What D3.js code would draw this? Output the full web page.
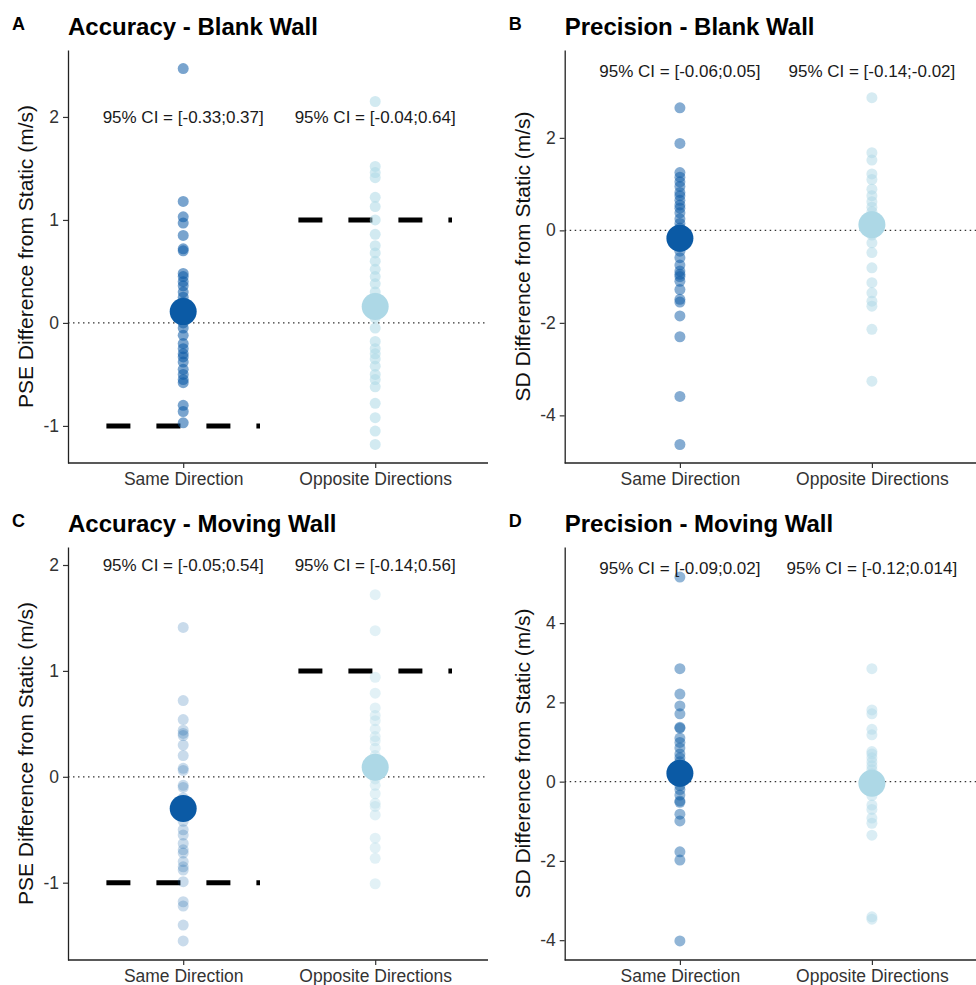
<!DOCTYPE html>
<html lang="en">
<head>
    <meta charset="UTF-8">
    <title></title>
    <style type="text/css">
        html, body { padding:0; margin:0; background:#fff; }
        text { font-family: "Liberation Sans", Arial, sans-serif; }
    </style>
</head>
<body>
<script src="https://d3js.org/d3.v7.min.js"></script>
<script>
    // categories and per-panel values
    var categories = ['Same Direction', 'Opposite Directions'];

    var accBlankSame = [2.47, 1.18, 1.03, 0.97, 0.85, 0.72, 0.70, 0.48, 0.45, 0.40, 0.36, 0.30, 0.25, 0.20, 0.15, 0.12, 0.05, 0.0,
                        -0.05, -0.12, -0.20, -0.25, -0.30, -0.33, -0.38, -0.45, -0.50, -0.55, -0.58, -0.80, -0.86, -0.97];
    var accBlankOpp = [2.15, 1.52, 1.46, 1.41, 1.22, 1.13, 1.0, 0.86, 0.75, 0.68, 0.60, 0.52, 0.45, 0.38, 0.30, 0.24, 0.10, 0.05,
                       -0.05, -0.18, -0.25, -0.30, -0.35, -0.42, -0.50, -0.55, -0.62, -0.78, -0.92, -1.05, -1.18];
    var precBlankSame = [2.65, 1.88, 1.25, 1.15, 1.05, 0.95, 0.82, 0.75, 0.65, 0.55, 0.48, 0.38, 0.25, 0.15, 0.05, -0.05, -0.15,
                         -0.25, -0.35, -0.45, -0.59, -0.75, -0.88, -0.95, -1.0, -1.1, -1.28, -1.49, -1.55, -1.85, -2.3, -3.59, -4.63];
    var precBlankOpp = [2.87, 1.68, 1.52, 1.22, 1.1, 0.89, 0.75, 0.62, 0.5, 0.4, 0.3, 0.2, 0.08, 0.0, -0.1, -0.27, -0.48, -0.81,
                        -1.13, -1.35, -1.53, -1.64, -2.14, -3.26];
    var accMovSame = [1.41, 0.72, 0.54, 0.44, 0.41, 0.39, 0.30, 0.20, 0.08, 0.06, -0.08, -0.10, -0.20, -0.42, -0.50, -0.55, -0.63,
                      -0.69, -0.72, -0.80, -0.85, -0.88, -0.99, -1.18, -1.22, -1.40, -1.55];
    var accMovOpp = [1.72, 1.38, 0.94, 0.79, 0.65, 0.58, 0.53, 0.45, 0.38, 0.34, 0.27, 0.20, 0.12, -0.02, -0.08, -0.16, -0.25,
                     -0.28, -0.36, -0.58, -0.67, -0.77, -1.01];
    var precMovSame = [5.16, 2.85, 2.21, 1.91, 1.71, 1.37, 1.35, 1.1, 0.99, 0.85, 0.7, 0.6, 0.5, 0.4, 0.3, 0.1, 0.0, -0.1, -0.2,
                       -0.34, -0.49, -0.52, -0.82, -0.99, -1.77, -1.98, -4.02];
    var precMovOpp = [2.85, 1.81, 1.71, 1.32, 1.18, 0.76, 0.7, 0.6, 0.5, 0.4, 0.3, 0.2, 0.1, 0.0, -0.2, -0.35, -0.59, -0.7,
                      -0.92, -1.05, -1.35, -3.41, -3.47];

    var accBlankMeans = [0.11, 0.16];
    var precBlankMeans = [-0.17, 0.12];
    var accMovMeans = [-0.30, 0.09];
    var precMovMeans = [0.21, -0.04];

    var accBlankCI = ['95% CI = [-0.33;0.37]', '95% CI = [-0.04;0.64]'];
    var precBlankCI = ['95% CI = [-0.06;0.05]', '95% CI = [-0.14;-0.02]'];
    var accMovCI = ['95% CI = [-0.05;0.54]', '95% CI = [-0.14;0.56]'];
    var precMovCI = ['95% CI = [-0.09;0.02]', '95% CI = [-0.12;0.014]'];

    var accTicks = [-1, 0, 1, 2];
    var precBlankTicks = [-4, -2, 0, 2];
    var precMovTicks = [-4, -2, 0, 2, 4];

    // reference levels (dashed) for the accuracy panels: same -> -1, opposite -> 1
    var accRefLevels = [-1, 1];

    var dark = '#0b5aa5', light = '#add8e6';

    var svg = d3.select('body').append('svg')
        .attr('width', 976)
        .attr('height', 985);

    var panels = [
        { letter: 'A', title: 'Accuracy - Blank Wall', ylab: 'PSE Difference from Static (m/s)',
          left: 68, top: 50, bottom: 463, right: 488, domain: [-1.36, 2.65], ticks: accTicks,
          series: [accBlankSame, accBlankOpp], means: accBlankMeans, ci: accBlankCI, ciY: 2,
          refs: accRefLevels, alpha: [0.55, 0.55] },
        { letter: 'B', title: 'Precision - Blank Wall', ylab: 'SD Difference from Static (m/s)',
          left: 564.7, top: 50, bottom: 463, right: 976, domain: [-5.03, 3.9], ticks: precBlankTicks,
          series: [precBlankSame, precBlankOpp], means: precBlankMeans, ci: precBlankCI, ciY: 3.45,
          refs: null, alpha: [0.5, 0.5] },
        { letter: 'C', title: 'Accuracy - Moving Wall', ylab: 'PSE Difference from Static (m/s)',
          left: 68, top: 547, bottom: 960, right: 488, domain: [-1.73, 2.17], ticks: accTicks,
          series: [accMovSame, accMovOpp], means: accMovMeans, ci: accMovCI, ciY: 2,
          refs: accRefLevels, alpha: [0.22, 0.35] },
        { letter: 'D', title: 'Precision - Moving Wall', ylab: 'SD Difference from Static (m/s)',
          left: 564.7, top: 547, bottom: 960, right: 976, domain: [-4.5, 5.92], ticks: precMovTicks,
          series: [precMovSame, precMovOpp], means: precMovMeans, ci: precMovCI, ciY: 5.4,
          refs: null, alpha: [0.45, 0.45] }
    ];

    panels.forEach(function(p, i) {
        var g = svg.append('g');
        var x = d3.scaleLinear().domain([0.4, 2.6]).range([p.left, p.left + 2.2 * 192]);
        var y = d3.scaleLinear().domain(p.domain).range([p.bottom, p.top]);
        var colors = [dark, light];

        g.append('clipPath').attr('id', 'clip' + i)
          .append('rect')
          .attr('x', p.left).attr('y', p.top - 30)
          .attr('width', p.right - p.left).attr('height', p.bottom - p.top + 30);

        var plot = g.append('g').attr('clip-path', 'url(#clip' + i + ')');

        // zero line
        plot.append('line')
          .attr('x1', p.left).attr('x2', x(2.6))
          .attr('y1', y(0)).attr('y2', y(0))
          .attr('stroke', '#333')
          .attr('stroke-width', 1.3)
          .attr('stroke-dasharray', '1.5,3.5');

        // dashed reference segments
        if (p.refs) {
            p.refs.forEach(function(v, k) {
                plot.append('line')
                  .attr('x1', x(k + 1 - 0.4)).attr('x2', x(k + 1 + 0.4))
                  .attr('y1', y(v)).attr('y2', y(v))
                  .attr('stroke', '#000')
                  .attr('stroke-width', 5)
                  .attr('stroke-dasharray', '24,26');
            });
        }

        p.series.forEach(function(vals, k) {
            plot.selectAll('.pt' + k)
              .data(vals)
              .enter().append('circle')
              .attr('cx', x(k + 1))
              .attr('cy', function(d) { return y(d); })
              .attr('r', 5.5)
              .attr('fill', colors[k])
              .attr('fill-opacity', p.alpha[k]);
        });

        plot.selectAll('.mean')
          .data(p.means)
          .enter().append('circle')
          .attr('cx', function(d, k) { return x(k + 1); })
          .attr('cy', function(d) { return y(d); })
          .attr('r', 13.5)
          .attr('fill', function(d, k) { return colors[k]; });

        g.selectAll('.ci')
          .data(p.ci)
          .enter().append('text')
          .attr('x', function(d, k) { return x(k + 1); })
          .attr('y', y(p.ciY))
          .attr('dy', '0.35em')
          .attr('text-anchor', 'middle')
          .attr('font-size', 17)
          .attr('fill', '#1a1a1a')
          .text(function(d) { return d; });

        // axes
        var yAxis = d3.axisLeft(y).tickValues(p.ticks).tickFormat(function(d) { return String(d); })
                      .tickSize(5).tickSizeOuter(0).tickPadding(4);
        var ya = g.append('g').attr('transform', 'translate(' + p.left + ',0)').call(yAxis);
        ya.select('.domain').attr('stroke', '#222').attr('stroke-width', 1.3);
        ya.selectAll('.tick line').attr('stroke', '#333').attr('stroke-width', 1.2);
        ya.selectAll('.tick text').attr('font-size', 17.5).attr('fill', '#333').style('font-family', '"Liberation Sans", Arial, sans-serif');

        var xAxis = d3.axisBottom(x).tickValues([1, 2]).tickFormat(function(d) { return categories[d - 1]; })
                      .tickSize(5).tickSizeOuter(0).tickPadding(5);
        var xa = g.append('g').attr('transform', 'translate(0,' + p.bottom + ')').call(xAxis);
        xa.select('.domain').attr('stroke', '#222').attr('stroke-width', 1.3)
          .attr('d', 'M' + p.left + ',0H' + p.right);
        xa.selectAll('.tick line').attr('stroke', '#333').attr('stroke-width', 1.2);
        xa.selectAll('.tick text').attr('font-size', 17.5).attr('fill', '#333').style('font-family', '"Liberation Sans", Arial, sans-serif');

        // y title
        var yt = p.left - 35;
        g.append('text')
          .attr('transform', 'translate(' + yt + ',' + ((p.top + p.bottom) / 2) + ') rotate(-90)')
          .attr('text-anchor', 'middle')
          .attr('font-size', 21)
          .attr('fill', '#111')
          .text(p.ylab);

        // title + panel letter
        g.append('text')
          .attr('x', p.left)
          .attr('y', p.top - 15)
          .attr('font-size', 24)
          .attr('font-weight', 'bold')
          .attr('fill', '#000')
          .text(p.title);

        g.append('text')
          .attr('x', p.left - 56)
          .attr('y', p.top - 20)
          .attr('font-size', 18)
          .attr('font-weight', 'bold')
          .attr('fill', '#000')
          .text(p.letter);
    });
</script>
</body>
</html>
